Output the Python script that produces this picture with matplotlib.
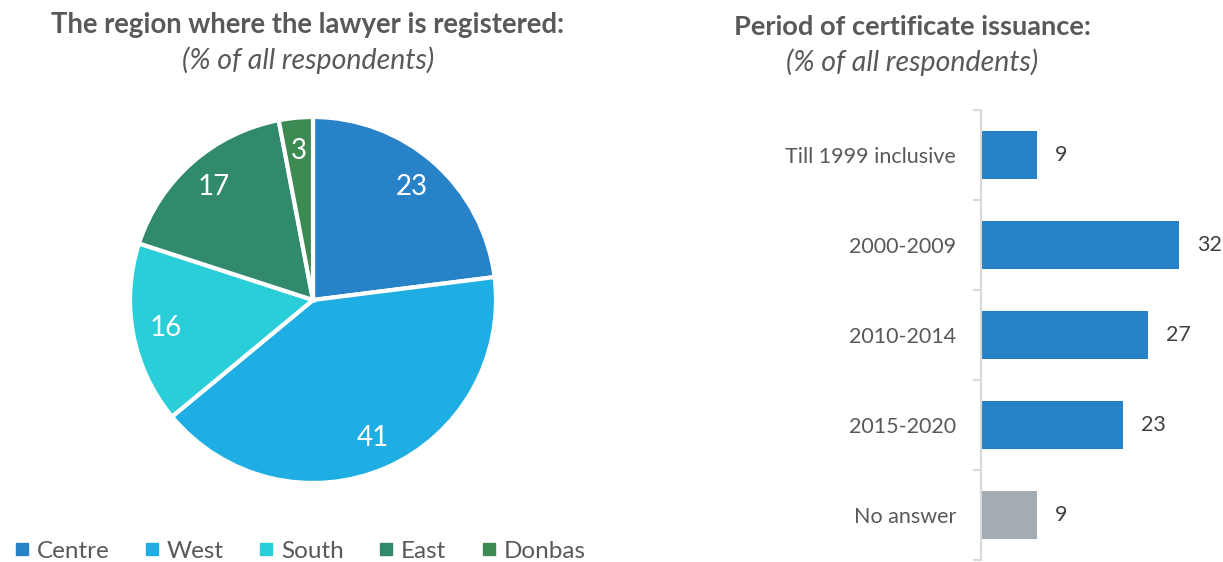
import matplotlib
matplotlib.use("Agg")
import matplotlib.pyplot as plt
import numpy as np

plt.rcParams['font.family'] = ['Lato', 'DejaVu Sans']

regions = ["Centre", "West", "South", "East", "Donbas"]
region_values = [23, 41, 16, 17, 3]
region_colors = ["#2882C8", "#1FAEE3", "#29CED8", "#318A6E", "#3E8A53"]

periods = ["Till 1999 inclusive", "2000-2009", "2010-2014", "2015-2020", "No answer"]
period_values = [9, 32, 27, 23, 9]
period_colors = ["#2882C8", "#2882C8", "#2882C8", "#2882C8", "#A3ACB2"]

W, H = 1223, 562
fig = plt.figure(figsize=(W / 100, H / 100), dpi=100)
grey = "#595959"

# Pie
cx, cy, r = 313, 300, 183
axp = fig.add_axes([(cx - r) / W, (H - cy - r) / H, 2 * r / W, 2 * r / H])
wedges, texts = axp.pie(region_values, colors=region_colors, startangle=90, counterclock=False,
                        labels=[str(v) for v in region_values], labeldistance=0.82,
                        wedgeprops=dict(edgecolor="white", linewidth=3),
                        textprops=dict(color="white", fontsize=20))
for t in texts:
    t.set_ha("center")
    t.set_va("center")
axp.set_xlim(-1.0, 1.0)
axp.set_ylim(-1.0, 1.0)
axp.set_aspect("equal")

fig.text(308 / W, 1 - 25 / H, "The region where the lawyer is registered:", ha="center", va="center",
         fontsize=19.8, fontweight="bold", color=grey)
fig.text(308 / W, 1 - 60 / H, "(% of all respondents)", ha="center", va="center",
         fontsize=20.5, style="italic", color=grey)

# Legend
handles = [plt.Line2D([], [], marker="s", linestyle="none", markersize=8, color=c) for c in region_colors]
leg = fig.legend(handles, regions, loc="center", bbox_to_anchor=(299 / W, 1 - 551 / H), ncol=5,
                 frameon=False, fontsize=17.5, handletextpad=0.2, columnspacing=1.35, handlelength=0.8,
                 labelcolor=grey)

# Bars
fig.text(912 / W, 1 - 27 / H, "Period of certificate issuance:", ha="center", va="center",
         fontsize=19.6, fontweight="bold", color=grey)
fig.text(912 / W, 1 - 62 / H, "(% of all respondents)", ha="center", va="center",
         fontsize=20.5, style="italic", color=grey)

scale = 6.19
xmax = 35
axb = fig.add_axes([981 / W, (H - 560) / H, xmax * scale / W, 450 / H])
y = np.arange(len(periods))
bars = axb.barh(y, period_values, height=0.54, color=period_colors)
axb.set_xlim(0, xmax)
axb.set_ylim(len(periods) - 0.5, -0.5)
for yi, v in zip(y, period_values):
    axb.annotate(str(v), (v, yi), xytext=(13, 0), textcoords="offset points",
                 ha="left", va="center", fontsize=15.5, color="#404040", annotation_clip=False)
axb.set_yticks(y)
axb.set_yticklabels(periods, fontsize=15.5, color=grey)
axb.set_yticks(np.arange(-0.5, len(periods), 1), minor=True)
axb.tick_params(axis="y", which="major", length=0, pad=18)
axb.tick_params(axis="y", which="minor", length=6, color="#D9D9D9", width=1.5)
axb.set_xticks([])
for s in ["top", "right", "bottom"]:
    axb.spines[s].set_visible(False)
axb.spines["left"].set_color("#D9D9D9")
axb.spines["left"].set_linewidth(1.5)

fig.savefig("out.png", dpi=100)
